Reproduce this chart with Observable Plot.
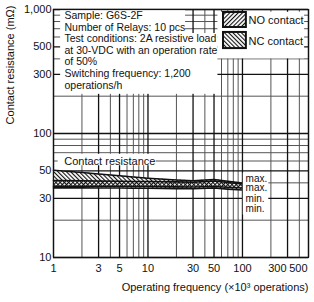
<!DOCTYPE html>
<html>
<head>
<meta charset="utf-8">
<script src="https://cdn.jsdelivr.net/npm/d3@7"></script>
<script src="https://cdn.jsdelivr.net/npm/@observablehq/plot@0.6"></script>
<style>
  html, body { margin: 0; padding: 0; background: white; }
</style>
</head>
<body>
<div id="chart"></div>
<script>
// ---- data ----
const ops   = [1,    2,    3,    5,    7,    10,   20,   30,   50,   70,   100];
const ncMax = [50.5, 48.5, 47.2, 45.6, 44.6, 43.6, 42.2, 41.6, 42.6, 41.2, 39.8];
const ncMin = [37.6, 37.6, 37.5, 37.5, 37.4, 37.4, 37.1, 37.0, 37.4, 36.9, 36.3];
const noMax = [41.8, 41.6, 41.4, 41.2, 41.0, 41.0, 40.7, 40.4, 41.4, 40.3, 39.2];
const noMin = [36.4, 36.4, 36.3, 36.3, 36.2, 36.2, 35.9, 35.8, 36.3, 35.6, 35.0];

const xTicks = [1, 3, 5, 10, 30, 50, 100, 300, 500];
const xTicksEnd = [300, 500];
const yTicks = [10, 30, 50, 100, 300, 500, 1000];
const xGrid = [1,2,3,4,5,6,7,8,9,10,20,30,40,50,60,70,80,90,100,200,300,400,500];
const yGrid = [10,20,30,40,50,60,70,80,90,100,200,300,400,500,600,700,800,900,1000];

const conditionText = [
  "Sample: G6S-2F",
  "Number of Relays: 10 pcs",
  "Test conditions: 2A resistive load",
  "at 30-VDC with an operation rate",
  "of 50%",
  "Switching frequency: 1,200",
  "operations/h"
];
const legendLabels = ["NO contact", "NC contact"];
const legendFills = ["url(#hatchNO)", "url(#hatchNC)"];
const mmLabels = ["max.", "max.", "min.", "min."];
const mmY = [43.4, 36.3, 29.9, 24.8];

const xLabel = "Operating frequency (×10³ operations)";
const yLabel = "Contact resistance (mΩ)";
const bandLabel = "Contact resistance";

// annotation backgrounds (data space)
const masks = [
  {x1: 1.19, x2: 25,  y1: 640, y2: 1000},
  {x1: 1.19, x2: 55,  y1: 207, y2: 640},
  {x1: 55,   x2: 455, y1: 400, y2: 950},
  {x1: 1.12, x2: 12.2, y1: 55, y2: 68},
  {x1: 102,  x2: 190, y1: 22,  y2: 48}
];
const swatches = [
  {x1: 63, x2: 110, y1: 716, y2: 946},
  {x1: 63, x2: 110, y1: 484, y2: 653}
];
const legendTextY = [815, 552];

const nc = ops.map((x, i) => ({x, lo: ncMin[i], hi: ncMax[i]}));
const no = ops.map((x, i) => ({x, lo: noMin[i], hi: noMax[i]}));
const majorX = new Set(xTicks), majorY = new Set(yTicks);

const plot = Plot.plot({
  width: 314,
  height: 302,
  marginLeft: 53,
  marginRight: 6,
  marginTop: 9,
  marginBottom: 45,
  style: {fontFamily: "'Liberation Sans', Arial, sans-serif", fontSize: "11px", color: "#111", background: "white"},
  x: {type: "log", domain: [1, 500], axis: null},
  y: {type: "log", domain: [10, 1000], axis: null},
  marks: [
    Plot.ruleX(xGrid.filter(v => !majorX.has(v)), {x: d => d, stroke: "#555", strokeWidth: 1}),
    Plot.ruleY(yGrid.filter(v => !majorY.has(v)), {y: d => d, stroke: "#555", strokeWidth: 1}),
    Plot.ruleX(xGrid.filter(v => majorX.has(v)), {x: d => d, stroke: "#111", strokeWidth: 1.3}),
    Plot.ruleY(yGrid.filter(v => majorY.has(v)), {y: d => d, stroke: "#111", strokeWidth: 1.3}),
    // bands
    Plot.areaY(nc, {x: "x", y1: "lo", y2: "hi", fill: "white"}),
    Plot.areaY(no, {x: "x", y1: "lo", y2: "hi", fill: "white"}),
    Plot.areaY(nc, {x: "x", y1: "lo", y2: "hi", fill: "url(#hatchNC)"}),
    Plot.areaY(no, {x: "x", y1: "lo", y2: "hi", fill: "url(#hatchNO)"}),
    Plot.line(nc, {x: "x", y: "hi", stroke: "#111", strokeWidth: 1.6}),
    Plot.line(nc, {x: "x", y: "lo", stroke: "#111", strokeWidth: 1.6}),
    Plot.line(no, {x: "x", y: "hi", stroke: "#111", strokeWidth: 1.6}),
    Plot.line(no, {x: "x", y: "lo", stroke: "#111", strokeWidth: 1.6}),
    // annotation backgrounds
    Plot.rect(masks, {x1: "x1", x2: "x2", y1: "y1", y2: "y2", fill: "white"}),
    // conditions text
    Plot.text([conditionText.join("\n")], {text: d => d, frameAnchor: "top-left", dx: 11, dy: 1.5,
      textAnchor: "start", lineAnchor: "top", lineHeight: 1.1, fontSize: 10.5, fill: "#111"}),
    // legend
    Plot.rect(swatches, {x1: "x1", x2: "x2", y1: "y1", y2: "y2", fill: "white"}),
    Plot.rect(swatches, {x1: "x1", x2: "x2", y1: "y1", y2: "y2", fill: (d, i) => legendFills[i], stroke: "#111", strokeWidth: 2}),
    Plot.text(legendLabels, {x: 116, y: (d, i) => legendTextY[i], text: d => d, textAnchor: "start", fontSize: 11, fill: "#111"}),
    // band label
    Plot.text([bandLabel], {x: 1.3, y: 60, text: d => d, textAnchor: "start", fontSize: 11, fill: "#111"}),
    // max/min labels
    Plot.text(mmLabels, {x: 108, y: (d, i) => mmY[i], text: d => d, textAnchor: "start", fontSize: 10, fill: "#111"}),
    Plot.frame({stroke: "#111", strokeWidth: 1.2}),
    // tick labels
    Plot.text(xTicks.filter(v => !xTicksEnd.includes(v)), {x: d => d, frameAnchor: "bottom", dy: 11, text: d => String(d), lineAnchor: "middle", fontSize: 11, fill: "#111"}),
    Plot.text(xTicksEnd, {x: d => d, frameAnchor: "bottom", dy: 11, dx: -1, text: d => String(d), textAnchor: "end", lineAnchor: "middle", fontSize: 11, fill: "#111"}),
    Plot.text(yTicks, {y: d => d, frameAnchor: "left", dx: -2, text: d => d3.format(",")(d), textAnchor: "end", fontSize: 11, fill: "#111"}),
    // axis titles
    Plot.text([xLabel], {text: d => d, frameAnchor: "bottom-right", dy: 30, textAnchor: "end", lineAnchor: "middle", fontSize: 11, fill: "#111"}),
    Plot.text([yLabel], {text: d => d, frameAnchor: "top-left", dx: -43, dy: -4, rotate: -90, textAnchor: "end", lineAnchor: "middle", fontSize: 11, fill: "#111"})
  ]
});

// hatch patterns
const ns = "http://www.w3.org/2000/svg";
const defs = document.createElementNS(ns, "defs");
function hatch(id, angle) {
  const p = document.createElementNS(ns, "pattern");
  p.setAttribute("id", id);
  p.setAttribute("patternUnits", "userSpaceOnUse");
  p.setAttribute("width", "3");
  p.setAttribute("height", "10");
  p.setAttribute("patternTransform", `rotate(${angle})`);
  const r = document.createElementNS(ns, "rect");
  r.setAttribute("x", "0"); r.setAttribute("y", "0");
  r.setAttribute("width", "1.1"); r.setAttribute("height", "10");
  r.setAttribute("fill", "#111");
  p.appendChild(r);
  defs.appendChild(p);
}
hatch("hatchNO", 45);
hatch("hatchNC", -45);
plot.insertBefore(defs, plot.firstChild);

document.getElementById("chart").appendChild(plot);
</script>
</body>
</html>
